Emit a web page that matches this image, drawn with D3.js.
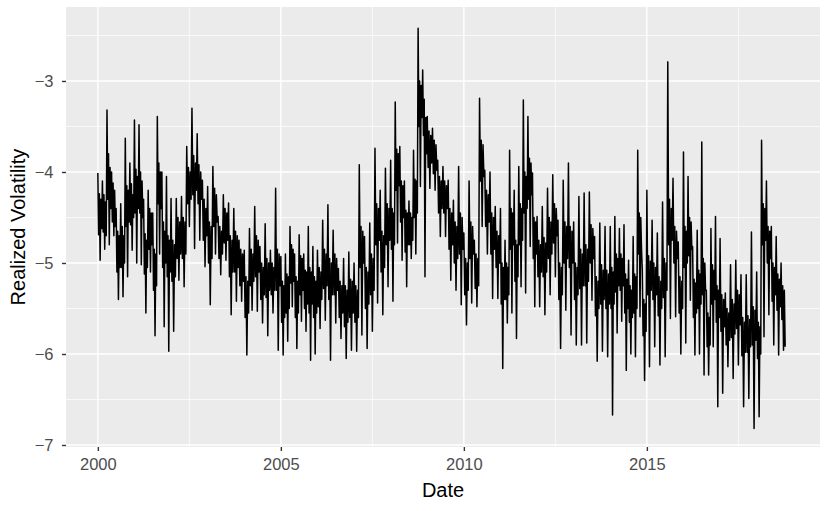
<!DOCTYPE html>
<html>
<head>
<meta charset="utf-8">
<script src="https://cdn.jsdelivr.net/npm/d3@7"></script>
<style>
  body { margin: 0; background: #fff; }
  text { font-family: "Liberation Sans", Arial, sans-serif; }
</style>
</head>
<body>
<div id="container"></div>
<script>
// realized volatility (log scale), one array per year
const rv2000 = [-4.01,-4.69,-4.24,-4.97,-4.30,-4.62, -4.10,-4.66,-4.25,-4.85,-4.33,-4.70, -3.32,-4.30,-3.80,-4.80,-3.95,-4.40, -4.00,-4.55,-4.12,-4.70,-4.20,-4.60,
  -4.40,-5.10,-4.65,-5.40,-4.70,-5.05, -4.35,-5.05,-4.60,-5.37,-4.70,-5.00, -3.63,-4.60,-4.15,-5.15,-4.20,-4.55, -3.90,-4.58,-4.13,-4.86,-4.25,-4.50];
const rv2001 = [-3.43,-4.45,-3.97,-5.00,-4.05,-4.40, -3.48,-4.45,-4.00,-5.02,-4.10,-4.50, -4.30,-5.12,-4.68,-5.55,-4.75,-5.05, -4.20,-4.85,-4.40,-5.10,-4.45,-4.80,
  -4.45,-5.30,-4.85,-5.80,-4.90,-5.25, -3.39,-4.35,-3.90,-4.90,-4.00,-4.40, -4.00,-5.05,-4.55,-5.70,-4.65,-5.00, -4.05,-5.15,-4.70,-5.97,-4.75,-5.10];
const rv2002 = [-4.29,-5.20,-4.75,-5.75,-4.80,-5.15, -4.29,-4.95,-4.50,-5.19,-4.55,-4.90, -4.27,-4.95,-4.50,-5.26,-4.55,-4.90, -3.72,-4.35,-3.95,-4.60,-4.00,-4.30,
  -3.30,-4.25,-3.82,-4.84,-3.90,-4.20, -3.58,-4.35,-3.92,-4.75,-4.00,-4.30, -4.09,-4.75,-4.30,-5.04,-4.40,-4.70];
const rv2003 = [-4.16,-5.00,-4.55,-5.46,-4.60,-4.95, -3.94,-4.60,-4.18,-4.90,-4.25,-4.55, -4.49,-4.95,-4.60,-5.13,-4.65,-4.90, -4.25,-4.78,-4.40,-4.97,-4.45,-4.75,
  -4.34,-5.15,-4.70,-5.57,-4.75,-5.10, -4.40,-5.10,-4.65,-5.42,-4.70,-5.05, -4.75,-5.25,-4.85,-5.42,-4.90,-5.20];
const rv2004 = [-4.86,-5.60,-5.15,-6.01,-5.20,-5.55, -4.62,-5.25,-4.85,-5.52,-4.90,-5.20, -4.38,-5.15,-4.70,-5.53,-4.75,-5.10, -4.82,-5.40,-5.00,-5.66,-5.05,-5.35,
  -4.57,-5.38,-4.95,-5.80,-5.00,-5.30, -4.86,-5.35,-5.00,-5.55,-5.05,-5.30, -4.18,-5.30,-4.85,-5.96,-4.90,-5.25];
const rv2005 = [-4.93,-5.65,-5.20,-6.01,-5.25,-5.60, -4.90,-5.55,-5.12,-5.86,-5.15,-5.50, -4.60,-5.22,-4.80,-5.48,-4.85,-5.20, -4.90,-5.60,-5.15,-5.94,-5.20,-5.55,
  -4.69,-5.35,-4.92,-5.64,-4.95,-5.30, -4.90,-5.50,-5.08,-5.75,-5.10,-5.45, -4.60,-5.55,-5.05,-6.07,-5.10,-5.45, -4.82,-5.60,-5.15,-6.00,-5.20,-5.55];
const rv2006 = [-4.86,-5.48,-5.05,-5.72,-5.10,-5.40, -4.53,-5.28,-4.85,-5.63,-4.90,-5.25, -4.36,-5.40,-4.95,-6.07,-5.00,-5.35, -4.64,-5.35,-4.90,-5.66,-4.95,-5.30,
  -5.06,-5.60,-5.20,-5.83,-5.25,-5.55, -4.95,-5.70,-5.25,-6.05,-5.30,-5.65, -4.88,-5.60,-5.18,-5.96,-5.20,-5.55];
const rv2007 = [-5.00,-5.65,-5.25,-5.97,-5.30,-5.60, -3.92,-5.05,-4.60,-5.79,-4.65,-5.00, -4.71,-5.50,-5.05,-5.94,-5.10,-5.45, -4.56,-5.35,-4.90,-5.75,-4.95,-5.30,
  -3.74,-4.80,-4.35,-5.44,-4.40,-4.75, -4.20,-5.10,-4.65,-5.57,-4.70,-5.05, -3.96,-4.80,-4.35,-5.26,-4.40,-4.75];
const rv2008 = [-3.87,-4.85,-4.40,-5.42,-4.45,-4.80, -3.23,-4.20,-3.75,-4.78,-3.80,-4.15, -3.72,-4.55,-4.10,-4.97,-4.15,-4.50, -4.10,-4.88,-4.42,-5.26,-4.45,-4.80,
  -4.32,-4.80,-4.45,-4.95,-4.50,-4.75, -3.76,-4.50,-4.08,-4.90,-4.10,-4.45, -2.42,-3.50,-3.00,-4.16,-3.05,-3.40, -2.88,-3.60,-3.20,-5.15,-3.40,-3.80];
const rv2009 = [-3.39,-3.95,-3.55,-4.18,-3.60,-3.90, -3.52,-4.02,-3.65,-4.20,-3.70,-3.98, -3.87,-4.45,-4.05,-4.71,-4.10,-4.40, -3.94,-4.45,-4.10,-4.71,-4.15,-4.40,
  -4.09,-4.85,-4.40,-5.19,-4.45,-4.80, -4.31,-5.00,-4.55,-5.30,-4.60,-4.95, -3.94,-4.90,-4.45,-5.46,-4.50,-4.85];
const rv2010 = [-4.67,-5.35,-4.95,-5.68,-5.00,-5.30, -4.10,-4.95,-4.55,-5.44,-4.60,-4.90, -4.75,-5.28,-4.90,-5.48,-4.95,-5.25, -3.19,-4.10,-3.65,-4.60,-3.70,-4.05,
  -3.98,-4.60,-4.20,-4.90,-4.25,-4.55, -4.00,-4.90,-4.45,-5.39,-4.50,-4.85, -4.38,-5.05,-4.65,-5.39,-4.70,-5.00];
const rv2011 = [-4.40,-5.45,-5.00,-6.16,-5.05,-5.40, -4.75,-5.40,-5.00,-5.66,-5.05,-5.35, -3.76,-4.85,-4.40,-5.55,-4.45,-4.80, -4.20,-5.20,-4.75,-5.83,-4.80,-5.15,
  -3.94,-4.80,-4.35,-5.26,-4.40,-4.75, -3.21,-4.45,-4.00,-5.33,-4.05,-4.40, -3.39,-4.30,-3.85,-4.82,-3.90,-4.25, -4.01,-4.95,-4.50,-5.48,-4.55,-4.90];
const rv2012 = [-4.49,-5.15,-4.75,-5.48,-4.80,-5.10, -4.38,-5.15,-4.72,-5.57,-4.78,-5.10, -4.18,-4.95,-4.50,-5.35,-4.55,-4.90, -4.03,-4.78,-4.35,-5.15,-4.40,-4.70,
  -4.53,-5.40,-5.00,-5.94,-5.05,-5.35, -4.09,-5.00,-4.55,-5.52,-4.60,-4.95, -3.90,-5.05,-4.60,-5.79,-4.65,-5.00];
const rv2013 = [-4.55,-5.40,-5.00,-5.90,-5.05,-5.35, -4.27,-5.28,-4.85,-5.90,-4.90,-5.25, -4.23,-5.25,-4.80,-5.88,-4.85,-5.20, -4.22,-5.00,-4.58,-5.41,-4.62,-4.95,
  -4.71,-5.58,-5.15,-6.08,-5.20,-5.50, -4.56,-5.45,-5.02,-5.97,-5.08,-5.40, -4.60,-5.50,-5.08,-6.03,-5.12,-5.45];
const rv2014 = [-4.60,-5.50,-5.05,-6.67,-5.10,-5.45, -4.49,-5.32,-4.90,-5.77,-4.95,-5.25, -4.62,-5.30,-4.90,-5.64,-4.95,-5.25, -4.58,-5.55,-5.12,-6.18,-5.18,-5.50,
  -4.97,-5.65,-5.25,-6.00,-5.30,-5.60, -4.71,-5.55,-5.12,-6.03,-5.15,-5.50, -3.76,-4.90,-4.45,-5.59,-4.50,-4.85, -5.08,-5.80,-5.40,-6.29,-5.45,-5.75];
const rv2015 = [-4.20,-5.35,-4.92,-6.14,-4.98,-5.30, -4.53,-5.40,-5.00,-5.92,-5.05,-5.35, -4.67,-5.58,-5.15,-6.12,-5.20,-5.50, -4.33,-5.38,-4.95,-6.03,-5.00,-5.30,
  -2.79,-4.80,-4.30,-5.61,-4.40,-4.75, -4.07,-5.00,-4.60,-5.59,-4.65,-4.95, -4.77,-5.55,-5.15,-6.00,-5.20,-5.50];
const rv2016 = [-3.78,-5.05,-4.60,-5.88,-4.65,-5.00, -4.05,-4.92,-4.50,-5.41,-4.55,-4.85, -4.82,-5.60,-5.18,-6.01,-5.22,-5.55, -4.64,-5.50,-5.08,-6.00,-5.12,-5.45,
  -3.67,-5.35,-4.95,-6.23,-5.00,-5.30, -5.30,-5.92,-5.55,-6.23,-5.60,-5.90, -4.62,-5.45,-5.02,-5.92,-5.08,-5.40, -4.49,-5.65,-5.25,-6.58,-5.30,-5.60];
const rv2017 = [-4.73,-5.75,-5.35,-6.43,-5.40,-5.70, -5.33,-5.90,-5.50,-6.14,-5.55,-5.85, -5.02,-5.82,-5.40,-6.27,-5.45,-5.78, -4.97,-5.72,-5.30,-6.12,-5.35,-5.68,
  -5.13,-6.02,-5.60,-6.58,-5.65,-5.98, -5.13,-5.98,-5.58,-6.49,-5.62,-5.92, -4.66,-5.90,-5.48,-6.82,-5.52,-5.85];
const rv2018 = [-5.10,-6.05,-5.65,-6.69,-5.70,-6.00, -3.65,-4.80,-4.35,-5.81,-4.40,-4.75, -4.10,-5.00,-4.60,-5.57,-4.65,-4.95, -4.60,-5.42,-5.00,-5.90,-5.05,-5.35,
  -4.71,-5.52,-5.12,-6.01,-5.18,-5.48, -5.00,-5.62,-5.25,-5.96,-5.30,-5.92];

const years = [2000,2001,2002,2003,2004,2005,2006,2007,2008,2009,2010,2011,2012,2013,2014,2015,2016,2017,2018];
const yearValues = [rv2000,rv2001,rv2002,rv2003,rv2004,rv2005,rv2006,rv2007,rv2008,rv2009,rv2010,rv2011,rv2012,rv2013,rv2014,rv2015,rv2016,rv2017,rv2018];
const yearSpan = [1,1,1,1,1,1,1,1,1,1,1,1,1,1,1,1,1,1,0.8]; // last year ends in autumn

const xTicks = [2000, 2005, 2010, 2015];
const xMinor = [2002.5, 2007.5, 2012.5, 2017.5];
const yTicks = [-7, -6, -5, -4, -3];
const yMinor = [-6.5, -5.5, -4.5, -3.5, -2.5];

// flatten to (decimal year, value)
let data = [];
years.forEach((yr, k) => {
  const vals = yearValues[k];
  vals.forEach((v, i) => data.push({ t: yr + yearSpan[k] * i / vals.length, v: v }));
});

const width = 830, height = 511;
const panel = { left: 66, top: 7, right: 820, bottom: 447 };

const x = d3.scaleLinear().domain([1999.13, 2019.73]).range([panel.left, panel.right]);
const y = d3.scaleLinear().domain([-7.022, -2.187]).range([panel.bottom, panel.top]);

const svg = d3.select("#container").append("svg")
  .attr("width", width)
  .attr("height", height);

svg.append("rect")
  .attr("x", panel.left).attr("y", panel.top)
  .attr("width", panel.right - panel.left).attr("height", panel.bottom - panel.top)
  .attr("fill", "#EBEBEB");

const grid = svg.append("g");
grid.selectAll(".ymin").data(yMinor).join("line")
  .attr("x1", panel.left).attr("x2", panel.right)
  .attr("y1", d => y(d)).attr("y2", d => y(d))
  .attr("stroke", "#fff").attr("stroke-width", 0.7);
grid.selectAll(".xmin").data(xMinor).join("line")
  .attr("y1", panel.top).attr("y2", panel.bottom)
  .attr("x1", d => x(d)).attr("x2", d => x(d))
  .attr("stroke", "#fff").attr("stroke-width", 0.7);
grid.selectAll(".ymaj").data(yTicks).join("line")
  .attr("x1", panel.left).attr("x2", panel.right)
  .attr("y1", d => y(d)).attr("y2", d => y(d))
  .attr("stroke", "#fff").attr("stroke-width", 1.4);
grid.selectAll(".xmaj").data(xTicks).join("line")
  .attr("y1", panel.top).attr("y2", panel.bottom)
  .attr("x1", d => x(d)).attr("x2", d => x(d))
  .attr("stroke", "#fff").attr("stroke-width", 1.4);

// the series
const line = d3.line().x(d => x(d.t)).y(d => y(d.v));
svg.append("path")
  .datum(data)
  .attr("fill", "none")
  .attr("stroke", "#000")
  .attr("stroke-width", 1.5)
  .attr("stroke-linejoin", "round")
  .attr("d", line);

// axes in ggplot style
const fmt = d3.format("d");
const xAxis = d3.axisBottom(x).tickValues(xTicks).tickSize(4).tickPadding(7).tickFormat(fmt);
const yAxis = d3.axisLeft(y).tickValues(yTicks).tickSize(4).tickPadding(8.5)
  .tickFormat(d => fmt(d).replace("-", "\u2212"));

const gx = svg.append("g").attr("transform", `translate(0,${panel.bottom})`).call(xAxis);
const gy = svg.append("g").attr("transform", `translate(${panel.left},0)`).call(yAxis);
[gx, gy].forEach(g => {
  g.select(".domain").remove();
  g.selectAll(".tick line").attr("stroke", "#333").attr("stroke-width", 1.4);
  g.selectAll(".tick text").attr("fill", "#4D4D4D").style("font-size", "16.5px");
});

svg.append("text")
  .attr("x", (panel.left + panel.right) / 2)
  .attr("y", 497)
  .attr("text-anchor", "middle")
  .style("font-size", "20px")
  .text("Date");

svg.append("text")
  .attr("transform", `translate(25,${(panel.top + panel.bottom) / 2}) rotate(-90)`)
  .attr("text-anchor", "middle")
  .style("font-size", "20px")
  .text("Realized Volatility");
</script>
</body>
</html>
